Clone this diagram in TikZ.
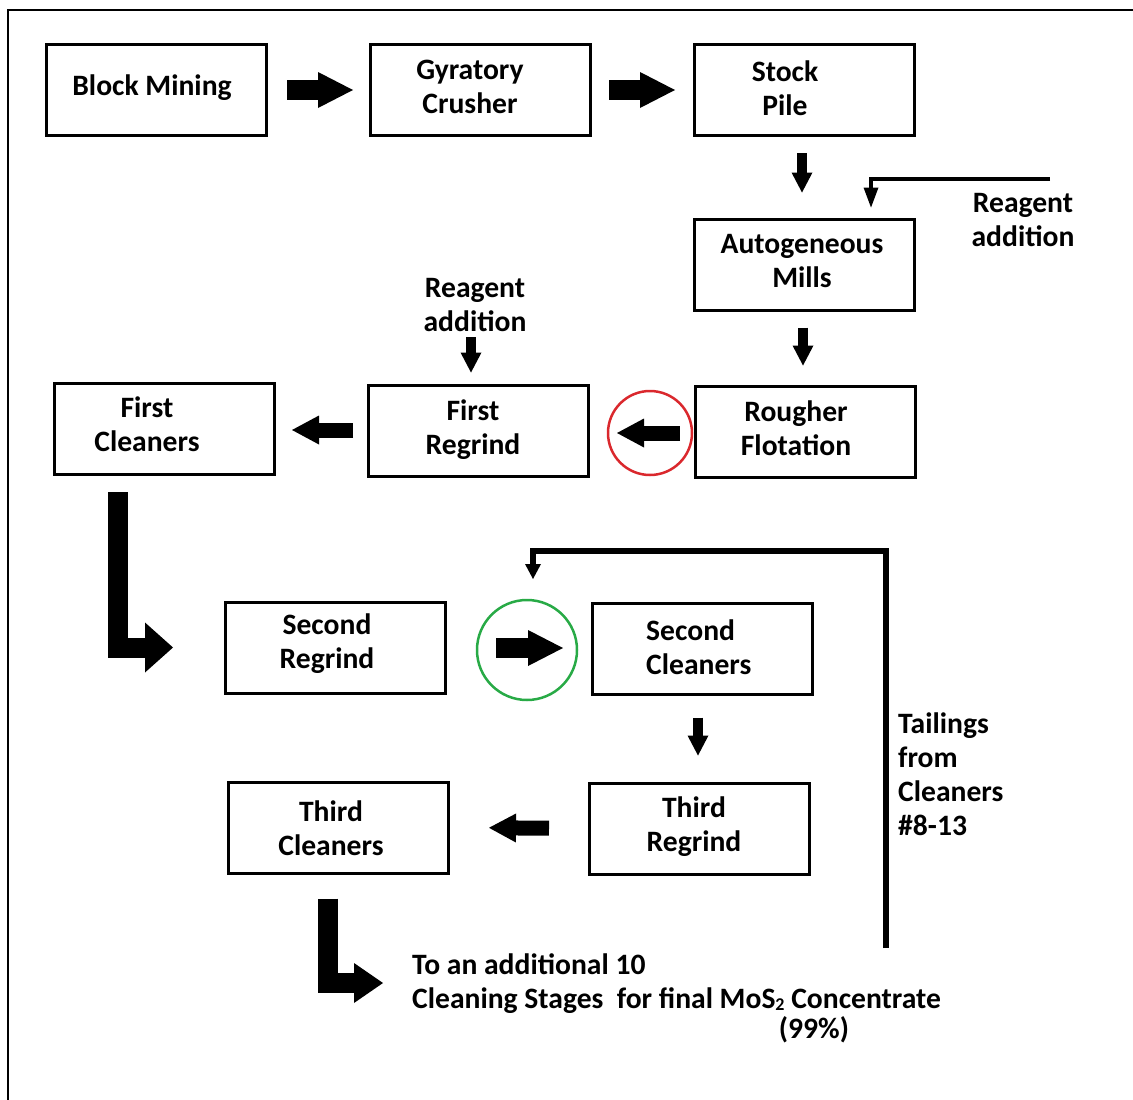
\documentclass[tikz,border=0pt]{standalone}
\usepackage{fontspec}
\setmainfont{Carlito}
\usetikzlibrary{arrows.meta,calc}
\definecolor{cred}{RGB}{218,40,45}
\definecolor{cgreen}{RGB}{40,170,70}
\newcommand{\subtwo}{\raisebox{-1.5pt}{\fontsize{18}{18}\selectfont 2}}
\begin{document}
\begin{tikzpicture}[x=1pt,y=-1pt,
  every node/.style={font=\bfseries\fontsize{29.6}{34}\selectfont, inner sep=0pt},
  box/.style={draw, line width=3pt, minimum width=220pt, minimum height=91pt},
  lbl/.style={align=center},
  bigarr/.style={line width=20pt, -{Triangle[length=35pt,width=36pt,line width=0pt]}},
  midarr/.style={line width=15pt, -{Triangle[length=27pt,width=29pt,line width=0pt]}},
  downarr/.style={line width=10pt, -{Triangle[length=20pt,width=21pt,line width=0pt]}},
  thinarr/.style={line width=4pt, line join=miter, -{Triangle[length=20pt,width=15pt,line width=0pt]}},
  larr/.style={line width=20pt, line join=miter, -{Triangle[length=28pt,width=50pt,line width=0pt]}},
  larrb/.style={line width=20pt, line join=miter, -{Triangle[length=29pt,width=40pt,line width=0pt]}},
  tailarr/.style={line width=6pt, line join=miter, -{Triangle[length=15pt,width=16pt,line width=0pt]}},
  ring/.style={circle, draw, line width=2.5pt}
]
\useasboundingbox (0,0) rectangle (1133,1100);
% frame
\draw[line width=2pt] (8,1100) -- (8,10) -- (1133,10);

% boxes
\node[box] (bm) at (156.5,90) {};
\node[box] (gc) at (480.5,90) {};
\node[box] (sp) at (804.5,90) {};
\node[box] (am) at (804.5,264.5) {};
\node[box] (rf) at (805.5,431.5) {};
\node[box] (fr) at (478.5,430.5) {};
\node[box] (fc) at (164.5,429) {};
\node[box] (sr) at (335.5,647.5) {};
\node[box] (sc) at (702.5,648.5) {};
\node[box] (tr) at (699.5,828.5) {};
\node[box] (tc) at (338.5,827.5) {};

% box texts
\node[lbl] (tbm) at (152,88) {Block Mining};
\node[lbl] (tgc) at (470,87) {Gyratory\\Crusher};
\node[lbl] (tsp) at (785,88) {Stock\\Pile};
\node[lbl] (tam) at (802,261) {Autogeneous\\Mills};
\node[lbl] (trf) at (796,428) {Rougher\\Flotation};
\node[lbl] (tfr) at (473,430) {First\\Regrind};
\node[lbl] (tfc) at (147,424) {First\\Cleaners};
\node[lbl] (tsr) at (327,644) {Second\\Regrind};
\node[align=left, anchor=west] (tsc) at (646,647) {Second\\Cleaners};
\node[lbl] (ttr) at (694,827) {Third\\Regrind};
\node[lbl] (ttc) at (331,828) {Third\\Cleaners};

% free texts
\node[lbl] (rg1) at (1023,220) {Reagent\\addition};
\node[lbl] (rg2) at (475,305) {Reagent\\addition};
\node[align=left, anchor=west] (tl) at (898,774) {Tailings\\from\\Cleaners\\\#8-13};
\node[align=left, anchor=west] (bt) at (412,984) {To an additional 10\\Cleaning Stages\ \ for final MoS\subtwo{} Concentrate};
\node (pct) at (814,1030) {(99\%)};

% rings
\node[ring, draw=cred, minimum size=84pt] (redc) at (650,433) {};
\node[ring, draw=cgreen, minimum size=100pt] (grc) at (527,650) {};

% connectors
\draw[bigarr, shorten <=19pt, shorten >=16pt] (bm.east) -- (gc.west);
\draw[bigarr, shorten <=17pt, shorten >=18pt] (gc.east) -- (sp.west);
\draw[downarr, shorten <=16pt, shorten >=25pt] ([xshift=-2.5pt]sp.south) -- ([xshift=-2.5pt]am.north);
\coordinate (r1) at (1050,179);
\draw[thinarr, shorten >=10pt] (r1) -| ([xshift=66.5pt]am.north);
\draw[downarr, shorten <=16pt, shorten >=19pt] ([xshift=-1.5pt]am.south) -- ([xshift=-2.5pt]rf.north);
\draw[midarr, shorten <=14pt, shorten >=27pt] (rf.west |- 0,433) -- (fr.east |- 0,433);
\coordinate (r2a) at (471,337);
\draw[downarr, shorten >=11pt] (r2a) -- (r2a |- fr.north);
\draw[midarr, shorten <=14pt, shorten >=16pt] (fr.west |- 0,430) -- (fc.east |- 0,430);
\draw[larr, shorten <=16pt, shorten >=51pt] ([xshift=-47pt]fc.south) |- (sr.west);
\draw[bigarr, shorten <=49pt, shorten >=28pt] (sr.east |- 0,648) -- (sc.west |- 0,648);
\draw[downarr, shorten <=22pt, shorten >=26pt] ([xshift=-4.5pt]sc.south) -- ([xshift=-1.5pt]tr.north);
\draw[midarr, shorten <=39pt, shorten >=39pt] (tr.west) -- (tc.east);
\coordinate (tce) at (383,983);
\draw[larrb, shorten <=24pt] ([xshift=-11pt]tc.south) |- (tce);
\coordinate (tb) at (886,948);
\coordinate (tt) at (533,579);
\draw[tailarr] (tb) -- (tb |- 0,551) -| (tt);
\end{tikzpicture}
\end{document}
